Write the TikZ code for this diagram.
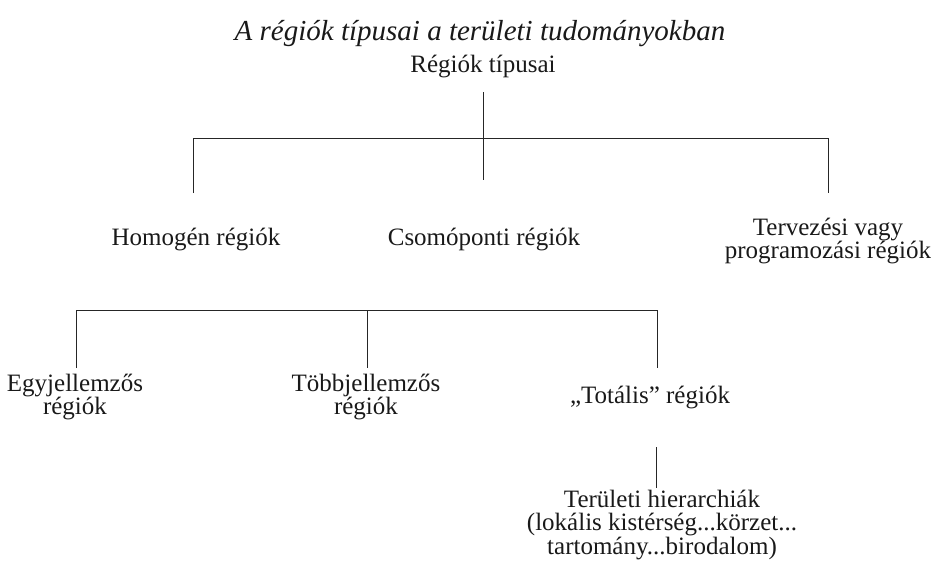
\documentclass[tikz,border=0pt]{standalone}
\usepackage{fontspec}
\setmainfont{Liberation Serif}
\begin{document}
\begin{tikzpicture}[x=1pt,y=-1pt,
  lbl/.style={inner sep=0pt, align=center, font=\fontsize{25}{22.5}\selectfont, text=black!90},
  ttl/.style={inner sep=0pt, font=\fontsize{29}{30}\selectfont\itshape, text=black!90},
  conn/.style={line width=0.9pt, draw=black!85}]
\useasboundingbox (0,0) rectangle (934,560);
\node[ttl] (title) at (480,34) {A régiók típusai a területi tudományokban};
\node[lbl] (root) at (483,67) {Régiók típusai};
\node[lbl] (homo) at (196,240) {Homogén régiók};
\node[lbl] (csom) at (484,240) {Csomóponti régiók};
\node[lbl] (terv) at (828,241) {Tervezési vagy\\programozási régiók};
\node[lbl] (egy) at (75,397) {Egyjellemzős\\régiók};
\node[lbl] (tobb) at (366,397) {Többjellemzős\\régiók};
\node[lbl] (tot) at (650,397) {„Totális” régiók};
\node[lbl] (ter) at (662,525) {Területi hierarchiák\\(lokális kistérség...körzet...\\tartomány...birodalom)};
% bus coordinates
\coordinate (r0) at (483,92);
\coordinate (r1) at (483,180);
\coordinate (b1l) at (193,138);
\coordinate (b1r) at (828,138);
\coordinate (hT) at (193,193);
\coordinate (tT) at (828,193);
\coordinate (b2l) at (76,310);
\coordinate (b2m) at (367,310);
\coordinate (b2r) at (657,310);
\coordinate (eT) at (76,368);
\coordinate (mT) at (367,368);
\coordinate (oT) at (657,368);
\coordinate (t0) at (656,447);
\coordinate (t1) at (656,488);
\draw[conn] (r0) -- (r1);
\draw[conn] (hT) -- (b1l) -- (b1r) -- (tT);
\draw[conn] (eT) -- (b2l) -- (b2r) -- (oT);
\draw[conn] (b2m) -- (mT);
\draw[conn] (t0) -- (t1);
\end{tikzpicture}
\end{document}
